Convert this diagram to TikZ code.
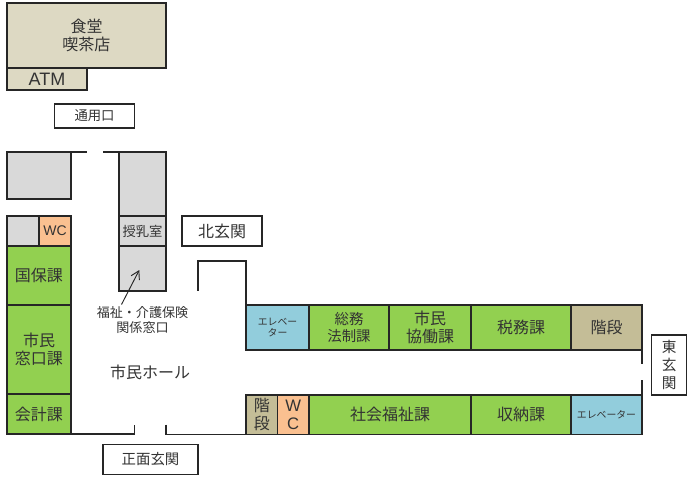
\documentclass[tikz,border=0pt]{standalone}
\usepackage{fontspec}
\setmainfont{Noto Sans CJK JP}
\newfontfamily\latinfont{Liberation Sans}
\usetikzlibrary{positioning, arrows.meta}
\definecolor{wallc}{HTML}{262626}
\definecolor{textc}{HTML}{333333}
\definecolor{tanc}{HTML}{DDD9C3}
\definecolor{grayc}{HTML}{D9D9D9}
\definecolor{orangec}{HTML}{FAC090}
\definecolor{greenc}{HTML}{92D050}
\definecolor{bluec}{HTML}{92CDDC}
\definecolor{stairc}{HTML}{C4BD97}
\tikzset{
  room/.style={draw=wallc, line width=1.1pt, inner sep=0pt, outer sep=0pt, align=center, text=textc, anchor=north west},
  sized/.style n args={2}{minimum width=#1*0.75pt, minimum height=#2*0.75pt},
  label12/.style={font=\fontsize{12}{13.6}\selectfont},
  label11/.style={font=\fontsize{10.8}{12.8}\selectfont},
  label10/.style={font=\fontsize{10}{12.2}\selectfont},
  label8/.style={font=\fontsize{7.4}{8.8}\selectfont},
  wall/.style={draw=wallc, line width=1.1pt},
  tancell/.style={room, fill=tanc},
  graycell/.style={room, fill=grayc},
  wccell/.style={room, fill=orangec},
  green cell/.style={room, fill=greenc},
  liftcell/.style={room, fill=bluec},
  staircell/.style={room, fill=stairc},
  sign/.style={room, fill=white}
}
\begin{document}
\begin{tikzpicture}[x=0.75pt, y=-0.75pt]
    \useasboundingbox (0,0) rectangle (690,478);

    % upper building
    \node[tancell, sized={159}{65}, label12] (cafe) at (7,3) {食堂\\喫茶店};
    \node[tancell, sized={80}{22}, font=\latinfont\fontsize{13.5}{15}\selectfont, below=0pt of cafe.south west, anchor=north west] (atm) {ATM};
    \node[sign, sized={80}{24}, label10] (tsuyo) at (54.5,104) {通用口};

    % left block
    \node[graycell, sized={64}{47}] (store1) at (7,152) {};
    \node[graycell, sized={32}{30}] (store2) at (7,216) {};
    \node[wccell, sized={32}{30}, font=\latinfont\fontsize{10.5}{12}\selectfont, right=0pt of store2.north east, anchor=north west] (wc1) {WC};
    \node[green cell, sized={64}{59}, label12, below=0pt of store2.south west, anchor=north west] (kokuho) {国保課};
    \node[green cell, sized={64}{89}, label12, below=0pt of kokuho.south west, anchor=north west] (madoguchi) {市民\\窓口課};
    \node[green cell, sized={64}{40}, label12, below=0pt of madoguchi.south west, anchor=north west] (kaikei) {会計課};

    % middle block
    \node[graycell, sized={47}{64}] (store3) at (119,152) {};
    \node[graycell, sized={47}{30}, label10, below=0pt of store3.south west, anchor=north west] (junyu) {授乳室};
    \node[graycell, sized={47}{45}, below=0pt of junyu.south west, anchor=north west] (fukushi) {};

    % upper row
    \node[liftcell, sized={63}{45}, label8] (lift1) at (246,305) {エレベー\\ター};
    \node[green cell, sized={80}{45}, label11, right=0pt of lift1.north east, anchor=north west] (somu) {総務\\法制課};
    \node[green cell, sized={82}{45}, label12, right=0pt of somu.north east, anchor=north west] (kyodo) {市民\\協働課};
    \node[green cell, sized={100}{45}, label12, right=0pt of kyodo.north east, anchor=north west] (zeimu) {税務課};
    \node[staircell, sized={71}{45}, label12, right=0pt of zeimu.north east, anchor=north west] (kaidan1) {階段};

    % lower row
    \node[staircell, sized={31.5}{39.5}, label12] (kaidan2) at (246,395) {階\\段};
    \node[wccell, sized={31.5}{39.5}, font=\latinfont\fontsize{12.5}{13}\selectfont, right=0pt of kaidan2.north east, anchor=north west] (wc2) {W\\C};
    \node[green cell, sized={162}{39.5}, label12, right=0pt of wc2.north east, anchor=north west] (shakai) {社会福祉課};
    \node[green cell, sized={100}{39.5}, label12, right=0pt of shakai.north east, anchor=north west] (shuno) {収納課};
    \node[liftcell, sized={71}{39.5}, label8, right=0pt of shuno.north east, anchor=north west] (lift2) {エレベーター};

    % entrances
    \node[sign, sized={80}{30}, label12] (kita) at (182,216) {北玄関};
    \node[sign, sized={95}{30}, label11] (shomen) at (103,444.5) {正面玄関};
    \node[sign, sized={35}{60}, font=\fontsize{11}{13.2}\selectfont] (higashi) at (651.7,335) {東\\玄\\関};

    % hall labels
    \node[font=\fontsize{9.8}{11}\selectfont, text=textc, align=center] (window) at (142.5,320) {福祉・介護保険\\関係窓口};
    \node[label12, text=textc] (hall) at (150,372) {市民ホール};

    % walls
    \coordinate (gapa) at (87,152);
    \coordinate (gapb) at (103,152);
    \draw[wall] (store1.north east) -- (gapa);
    \draw[wall] (gapb) -- (store3.north west);
    \coordinate (doora) at (134.7,424.5);
    \coordinate (doorb) at (166,424.5);
    \draw[wall] (kaikei.south east) -| (doora);
    \draw[wall] (doorb) |- (kaidan2.south west);
    \coordinate (northa) at (198,290.7);
    \draw[wall] (northa) |- (246,261) -- (lift1.north west);
    \coordinate (easta) at (642,364);
    \coordinate (eastb) at (642,380);
    \draw[wall] (kaidan1.south east) -- (easta);
    \draw[wall] (eastb) -- (lift2.north east);

    % arrow to the window
    \coordinate (tipa) at (139.3,270);
    \coordinate (taila) at (121.5,304.5);
    \draw[-{Straight Barb[length=6pt,width=7pt]}, draw=wallc, line width=0.7pt] (taila) -- (tipa);
\end{tikzpicture}
\end{document}
